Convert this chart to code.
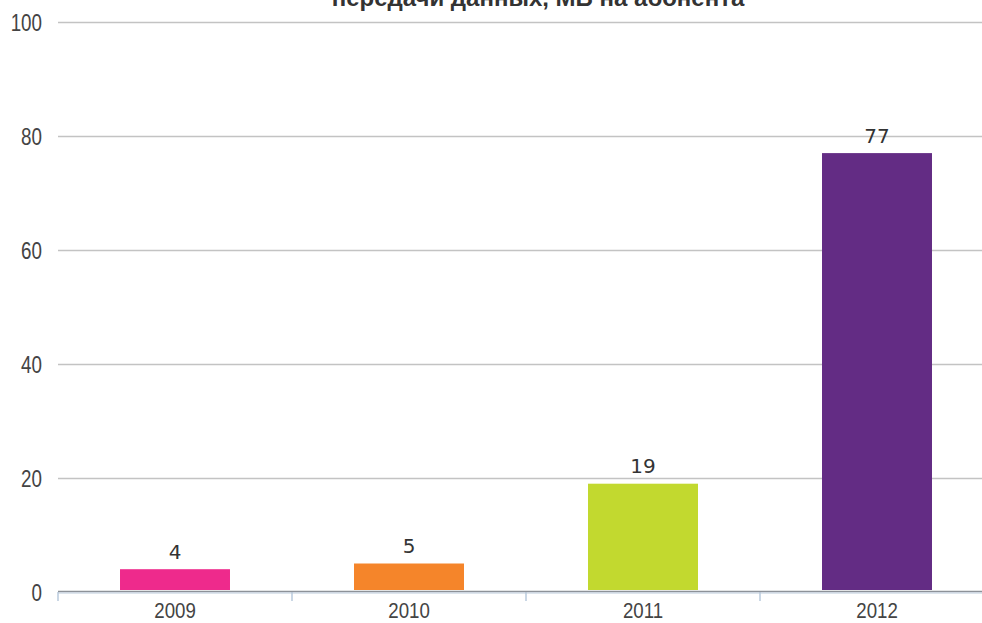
<!DOCTYPE html>
<html>
<head>
<meta charset="utf-8">
<script src="https://cdn.jsdelivr.net/npm/d3@7"></script>
<style>
  body { margin: 0; background: #fff; }
  svg { display: block; }
</style>
</head>
<body>
<div id="chart"></div>
<script>
// chart data
const years = ['2009', '2010', '2011', '2012'];
const values = [4, 5, 19, 77];
const barColors = ['#ee2a8c', '#f5852a', '#c2d92f', '#632c84'];
const yTicks = [0, 20, 40, 60, 80, 100];
const title = 'передачи данных, МБ на абонента';

const width = 982;
const height = 623;
const margin = {top: 22, right: -12, bottom: 31, left: 58};

const svg = d3
	.select('#chart')
	.append('svg')
	.attr('width', width)
	.attr('height', height);

const x = d3
	.scaleBand()
	.domain(years)
	.range([margin.left, width - margin.right])
	.paddingInner(0.53)
	.paddingOuter(0.265);

const y = d3
	.scaleLinear()
	.domain([0, 100])
	.range([height - margin.bottom, margin.top]);

// condensed look for axis labels (no narrow font installed)
const axisFont = '"Liberation Sans", Arial, sans-serif';

// gridlines
svg.append('g')
	.selectAll('line')
	.data(yTicks.filter(d => d > 0))
	.enter()
	.append('line')
	.attr('x1', margin.left)
	.attr('x2', width)
	.attr('y1', d => Math.round(y(d)) + 0.5)
	.attr('y2', d => Math.round(y(d)) + 0.5)
	.attr('stroke', '#c3c3c3')
	.attr('stroke-width', 1.5);

// y labels
svg.append('g')
	.selectAll('text')
	.data(yTicks)
	.enter()
	.append('text')
	.attr('transform', d => `translate(42,${y(d) + 8.5}) scale(0.8,1)`)
	.attr('text-anchor', 'end')
	.attr('font-family', axisFont)
	.attr('font-size', 23.5)
	.attr('fill', '#444')
	.text(d => d);

// bars
svg.append('g')
	.selectAll('rect')
	.data(values)
	.enter()
	.append('rect')
	.attr('x', (d, i) => x(years[i]))
	.attr('width', x.bandwidth())
	.attr('y', d => y(d))
	.attr('height', d => y(0) - 2 - y(d))
	.attr('fill', (d, i) => barColors[i]);

// value labels
svg.append('g')
	.selectAll('text')
	.data(values)
	.enter()
	.append('text')
	.attr('x', (d, i) => x(years[i]) + x.bandwidth() / 2)
	.attr('y', d => y(d) - 10.5)
	.attr('text-anchor', 'middle')
	.attr('font-family', '"DejaVu Sans", sans-serif')
	.attr('font-size', 20)
	.attr('fill', '#333')
	.text(d => d);

// x axis
const step = x.step();
const tickXs = years.map((d, i) => margin.left + i * step);
tickXs.push(margin.left + years.length * step);

svg.append('g')
	.selectAll('line')
	.data(tickXs)
	.enter()
	.append('line')
	.attr('x1', d => d)
	.attr('x2', d => d)
	.attr('y1', y(0))
	.attr('y2', y(0) + 9)
	.attr('stroke', '#b9cadd')
	.attr('stroke-width', 1.5);

svg.append('line')
	.attr('x1', margin.left)
	.attr('x2', width)
	.attr('y1', y(0) - 0.5)
	.attr('y2', y(0) - 0.5)
	.attr('stroke', '#8d9299')
	.attr('stroke-width', 1.5);

svg.append('line')
	.attr('x1', margin.left)
	.attr('x2', width)
	.attr('y1', y(0) + 1)
	.attr('y2', y(0) + 1)
	.attr('stroke', '#bccbdc')
	.attr('stroke-width', 1);

svg.append('g')
	.selectAll('text')
	.data(years)
	.enter()
	.append('text')
	.attr('transform', d => `translate(${x(d) + x.bandwidth() / 2},617.5) scale(0.83,1)`)
	.attr('text-anchor', 'middle')
	.attr('font-family', axisFont)
	.attr('font-size', 22.5)
	.attr('fill', '#444')
	.text(d => d);

// title (its upper line lies above the frame, as in the source)
svg.append('text')
	.attr('x', 538)
	.attr('y', 6)
	.attr('text-anchor', 'middle')
	.attr('font-family', '"Liberation Sans", Arial, sans-serif')
	.attr('font-weight', 'bold')
	.attr('font-size', 24)
	.attr('fill', '#333')
	.text(title);
</script>
</body>
</html>
